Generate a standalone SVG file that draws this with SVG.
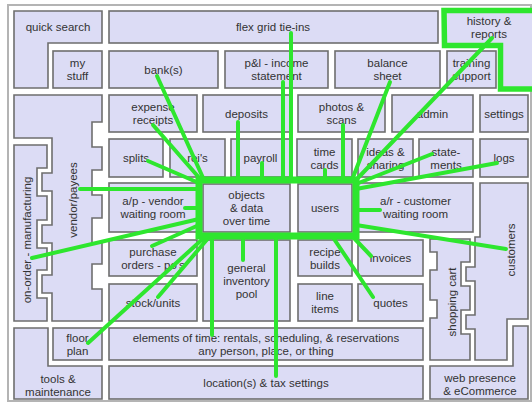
<svg xmlns="http://www.w3.org/2000/svg" width="532" height="403" viewBox="0 0 532 403">
<style>
.b{fill:#dcdcf5;stroke:#6e6e6e;stroke-width:1.6}
.t{font-family:"Liberation Sans",Arial,sans-serif;font-size:11.5px;fill:#333;text-anchor:middle}
.v{dominant-baseline:central}
.c{stroke:#2ee62e;stroke-width:4;stroke-linecap:round;fill:none}
.hub{stroke:#2ee62e;stroke-width:7;fill:none}
</style>
<rect x="0" y="0" width="532" height="403" fill="#ffffff"/>
<rect x="8" y="5" width="523" height="396" fill="#ffffff" stroke="#b4b4b4" stroke-width="2"/>

<g id="quick-search"><path class="b" d="M14,11H102V43H48V88H14Z"/><text class="t" x="58" y="31">quick search</text></g>
<g id="flex-grid"><rect class="b" x="109" y="11" width="329" height="32"/><text class="t" x="273" y="31">flex grid tie-ins</text></g>
<g id="history-reports"><path d="M444,10.5H536V89H500.5V45.5H444.5Z" fill="#dcdcf5" stroke="#2ee62e" stroke-width="5.5"/><text class="t" x="489" y="25">history &amp;<tspan x="489" dy="13">reports</tspan></text></g>

<g id="my-stuff"><rect class="b" x="53" y="51" width="49" height="37"/><text class="t" x="77.5" y="67">my<tspan x="77.5" dy="13">stuff</tspan></text></g>
<g id="banks"><rect class="b" x="109" y="51" width="109" height="37"/><text class="t" x="163.5" y="73.5">bank(s)</text></g>
<g id="pl"><rect class="b" x="225" y="51" width="103" height="37"/><text class="t" x="276.5" y="67">p&amp;l - income<tspan x="276.5" dy="13">statement</tspan></text></g>
<g id="balance"><rect class="b" x="335" y="51" width="105" height="37"/><text class="t" x="387.5" y="67">balance<tspan x="387.5" dy="13">sheet</tspan></text></g>
<g id="training"><rect class="b" x="447" y="51" width="49" height="37"/><text class="t" x="471.5" y="67">training<tspan x="471.5" dy="13">support</tspan></text></g>

<g id="vendor-payees"><path class="b" d="M14,95H102V122H92V147H102V170H92V195H102V218H92V243H102V264H92V289H102V321H52V293H42V275H52V243H42V225H52V191H42V173H52V138H14Z"/><text class="t v" transform="translate(73,200) rotate(-90)">vendor/payees</text></g>
<g id="on-order"><path class="b" d="M14,145H47V168H37V196H47V220H37V248H47V270H37V298H47V321H14Z"/><text class="t v" transform="translate(27,240) rotate(-90)">on-order - manufacturing</text></g>

<g id="expense"><rect class="b" x="109" y="95" width="88" height="37"/><text class="t" x="153" y="111">expense<tspan x="153" dy="13">receipts</tspan></text></g>
<g id="deposits"><rect class="b" x="203" y="95" width="87" height="37"/><text class="t" x="246.5" y="118">deposits</text></g>
<g id="photos"><rect class="b" x="298" y="95" width="87" height="37"/><text class="t" x="341.5" y="111">photos &amp;<tspan x="341.5" dy="13">scans</tspan></text></g>
<g id="admin"><rect class="b" x="392" y="95" width="81" height="37"/><text class="t" x="432.5" y="118">admin</text></g>
<g id="settings"><rect class="b" x="480" y="95" width="48" height="37"/><text class="t" x="504" y="118">settings</text></g>

<g id="splits"><rect class="b" x="109" y="139" width="54" height="38"/><text class="t" x="136" y="162">splits</text></g>
<g id="reis"><rect class="b" x="170" y="139" width="55" height="38"/><text class="t" x="197.5" y="162">rei's</text></g>
<g id="payroll"><rect class="b" x="231" y="139" width="59" height="38"/><text class="t" x="260.5" y="162">payroll</text></g>
<g id="time-cards"><rect class="b" x="297" y="139" width="55" height="38"/><text class="t" x="324.5" y="155.5">time<tspan x="324.5" dy="13">cards</tspan></text></g>
<g id="ideas"><rect class="b" x="358" y="139" width="55" height="38"/><text class="t" x="385.5" y="155.5">ideas &amp;<tspan x="385.5" dy="13">sharing</tspan></text></g>
<g id="statements"><rect class="b" x="419" y="139" width="54" height="38"/><text class="t" x="446" y="155.5">state-<tspan x="446" dy="13">ments</tspan></text></g>
<g id="logs"><rect class="b" x="480" y="139" width="48" height="38"/><text class="t" x="504" y="162">logs</text></g>

<g id="ap-vendor"><rect class="b" x="109" y="183" width="88" height="49"/><text class="t" x="153" y="205">a/p - vendor<tspan x="153" dy="13">waiting room</tspan></text></g>
<g id="objects"><rect class="b" x="203" y="184" width="87" height="48"/><text class="t" x="246.5" y="198.5">objects<tspan x="246.5" dy="13">&amp; data</tspan><tspan x="246.5" dy="13">over time</tspan></text></g>
<g id="users"><rect class="b" x="298" y="184" width="54" height="48"/><text class="t" x="325" y="212">users</text></g>
<g id="ar-customer"><rect class="b" x="358" y="183" width="115" height="49"/><text class="t" x="415.5" y="205">a/r - customer<tspan x="415.5" dy="13">waiting room</tspan></text></g>
<g id="customers"><path class="b" d="M480,183H528V319H507V360H475V329H466V315H475V281H466V267H475V237H480Z"/><text class="t v" transform="translate(511,250) rotate(-90)">customers</text></g>

<g id="purchase"><rect class="b" x="109" y="240" width="88" height="36"/><text class="t" x="153" y="255.5">purchase<tspan x="153" dy="13">orders - po's</tspan></text></g>
<g id="general"><rect class="b" x="203" y="240" width="87" height="81"/><text class="t" x="246.5" y="271.5">general<tspan x="246.5" dy="13">inventory</tspan><tspan x="246.5" dy="13">pool</tspan></text></g>
<g id="recipe"><rect class="b" x="298" y="240" width="54" height="36"/><text class="t" x="325" y="255.5">recipe<tspan x="325" dy="13">builds</tspan></text></g>
<g id="invoices"><rect class="b" x="358" y="240" width="65" height="36"/><text class="t" x="390.5" y="262">invoices</text></g>
<g id="shopping-cart"><path class="b" d="M430,239H470V262H461V286H470V310H461V334H470V360H430V318H437V300H430V270H437V252H430Z"/><text class="t v" transform="translate(452,302) rotate(-90)">shopping cart</text></g>

<g id="stock"><rect class="b" x="109" y="284" width="88" height="37"/><text class="t" x="153" y="307">stock/units</text></g>
<g id="line-items"><rect class="b" x="298" y="284" width="54" height="37"/><text class="t" x="325" y="300">line<tspan x="325" dy="13">items</tspan></text></g>
<g id="quotes"><rect class="b" x="358" y="284" width="65" height="37"/><text class="t" x="390.5" y="307">quotes</text></g>

<g id="floor-plan"><rect class="b" x="53" y="328" width="49" height="32"/><text class="t" x="77.5" y="341.5">floor<tspan x="77.5" dy="13">plan</tspan></text></g>
<g id="elements"><rect class="b" x="109" y="328" width="314" height="32"/><text class="t" x="266" y="341.5">elements of time: rentals, scheduling, &amp; reservations<tspan x="266" dy="13">any person, place, or thing</tspan></text></g>

<g id="tools"><path class="b" d="M14,328H48V366H102V399H14Z"/><text class="t" x="58" y="382.5">tools &amp;<tspan x="58" dy="13">maintenance</tspan></text></g>
<g id="location"><rect class="b" x="109" y="366" width="314" height="33"/><text class="t" x="266" y="387">location(s) &amp; tax settings</text></g>
<g id="web-presence"><path class="b" d="M430,366H513V326H528V399H430Z"/><text class="t" x="480" y="382">web presence<tspan x="480" dy="13">&amp; eCommerce</tspan></text></g>

<g id="connectors">
<line class="c" x1="291" y1="33" x2="291" y2="180"/>
<line class="c" x1="283" y1="82" x2="283" y2="180"/>
<line class="c" x1="238" y1="122" x2="238" y2="180"/>
<line class="c" x1="262" y1="163" x2="262" y2="180"/>
<line class="c" x1="343" y1="125" x2="343" y2="180"/>
<line class="c" x1="325" y1="170" x2="325" y2="180"/>
<line class="c" x1="157" y1="76" x2="204" y2="180"/>
<line class="c" x1="153" y1="125" x2="202" y2="181"/>
<line class="c" x1="148" y1="161" x2="199" y2="183"/>
<line class="c" x1="80" y1="189" x2="199" y2="189"/>
<line class="c" x1="185" y1="208" x2="199" y2="208"/>
<line class="c" x1="32" y1="258" x2="199" y2="219"/>
<line class="c" x1="152" y1="246" x2="199" y2="225"/>
<line class="c" x1="88" y1="343" x2="206" y2="236"/>
<line class="c" x1="158" y1="297" x2="210" y2="236"/>
<line class="c" x1="212" y1="335" x2="212" y2="236"/>
<line class="c" x1="243" y1="260" x2="243" y2="236"/>
<line class="c" x1="276" y1="376" x2="276" y2="236"/>
<line class="c" x1="373" y1="297" x2="332" y2="236"/>
<line class="c" x1="371" y1="256" x2="352" y2="236"/>
<line class="c" x1="506" y1="249" x2="356" y2="225"/>
<line class="c" x1="380" y1="210" x2="356" y2="210"/>
<line class="c" x1="497" y1="163" x2="356" y2="189"/>
<line class="c" x1="432" y1="154" x2="356" y2="184"/>
<line class="c" x1="390" y1="82" x2="352" y2="180"/>
<line class="c" x1="492" y1="38" x2="356" y2="180"/>
<rect class="hub" x="199" y="180" width="157" height="56"/>
</g>
</svg>
